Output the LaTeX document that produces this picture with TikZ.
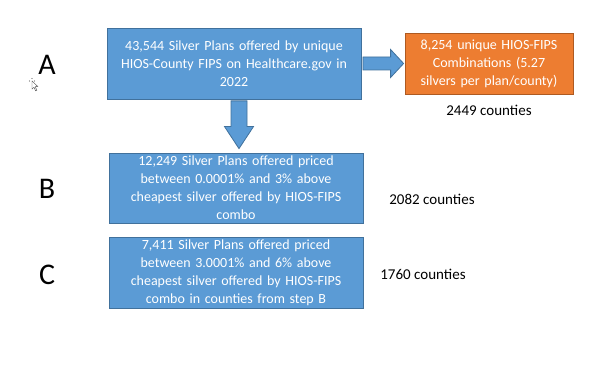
\documentclass[tikz,border=0pt]{standalone}
\usepackage{fontspec}
\setmainfont{Carlito}
\usetikzlibrary{calc}
\definecolor{boxblue}{HTML}{5B9BD5}
\definecolor{boxblueline}{HTML}{41719C}
\definecolor{boxorange}{HTML}{ED7D31}
\definecolor{boxorangeline}{HTML}{AE5A21}
\tikzset{
  stepbox/.style={draw=boxblueline, fill=boxblue, line width=0.8pt, text=white,
    align=center, inner sep=0pt, font=\fontsize{14}{18}\selectfont},
  orangebox/.style={stepbox, draw=boxorangeline, fill=boxorange},
  blockarrow/.style={draw=boxblueline, fill=boxblue, line width=0.8pt, line join=miter},
  sidelabel/.style={font=\fontsize{15}{18}\selectfont, text=black},
  steplabel/.style={font=\fontsize{30}{36}\selectfont, text=black},
  cursorstyle/.style={draw=black!70, fill=white, line width=0.4pt}
}
\begin{document}
\begin{tikzpicture}[x=1pt,y=-1pt]
\useasboundingbox (0,0) rectangle (600,371);
\node[stepbox, minimum width=254pt, minimum height=71pt, text width=250pt] (A) at (234,63.5)
  {43,544 Silver Plans offered by unique\\HIOS-County FIPS on Healthcare.gov in\\2022};
\node[orangebox, minimum width=168pt, minimum height=61pt, text width=165pt] (O) at (489,63.5)
  {8,254 unique HIOS-FIPS\\Combinations (5.27\\silvers per plan/county)};
\node[sidelabel] (c1) at (489,110) {2449 counties};
\node[stepbox, minimum width=254pt, minimum height=70pt, text width=250pt] (B) at (236,188)
  {12,249 Silver Plans offered priced\\between 0.0001\% and 3\% above\\cheapest silver offered by HIOS-FIPS\\combo};
\node[sidelabel] (c2) at (432,199) {2082 counties};
\node[stepbox, minimum width=254pt, minimum height=71pt, text width=250pt] (C) at (236,272.5)
  {7,411 Silver Plans offered priced\\between 3.0001\% and 6\% above\\cheapest silver offered by HIOS-FIPS\\combo in counties from step B};
\node[sidelabel] (c3) at (423,274) {1760 counties};
\node[steplabel] (LA) at (47,65) {A};
\node[steplabel] (LB) at (47,189) {B};
\node[steplabel] (LC) at (47,275) {C};
% right block arrow
\coordinate (ra1) at ($(A.east)+(1.5,0)$);
\coordinate (ra2) at ($(O.west)+(-1,0)$);
\draw[blockarrow] ($(ra1)+(0,-6.5)$) -- ($(ra2)+(-13,-6.5)$) -- ($(ra2)+(-13,-14)$) -- (ra2)
  -- ($(ra2)+(-13,14)$) -- ($(ra2)+(-13,6.5)$) -- ($(ra1)+(0,6.5)$) -- cycle;
% down block arrow
\coordinate (da1) at ($(A.south)+(5,1.5)$);
\coordinate (da2) at ($(B.north)+(3,-4)$);
\draw[blockarrow] ($(da1)+(-8,0)$) -- ($(da2)+(-8,-22)$) -- ($(da2)+(-14.5,-22)$) -- (da2)
  -- ($(da2)+(14.5,-22)$) -- ($(da2)+(8,-22)$) -- ($(da1)+(8,0)$) -- cycle;
% mouse cursor
\draw[cursorstyle] (32,81) -- (32,89) -- (34,87.2) -- (35.6,90.8) -- (36.8,90.2) -- (35.3,86.7) -- (37.8,86.5) -- cycle;
\fill[black!60] (29.5,81) circle (0.6) (32,78.5) circle (0.6) (34.5,81) circle (0.6);
\end{tikzpicture}
\end{document}
